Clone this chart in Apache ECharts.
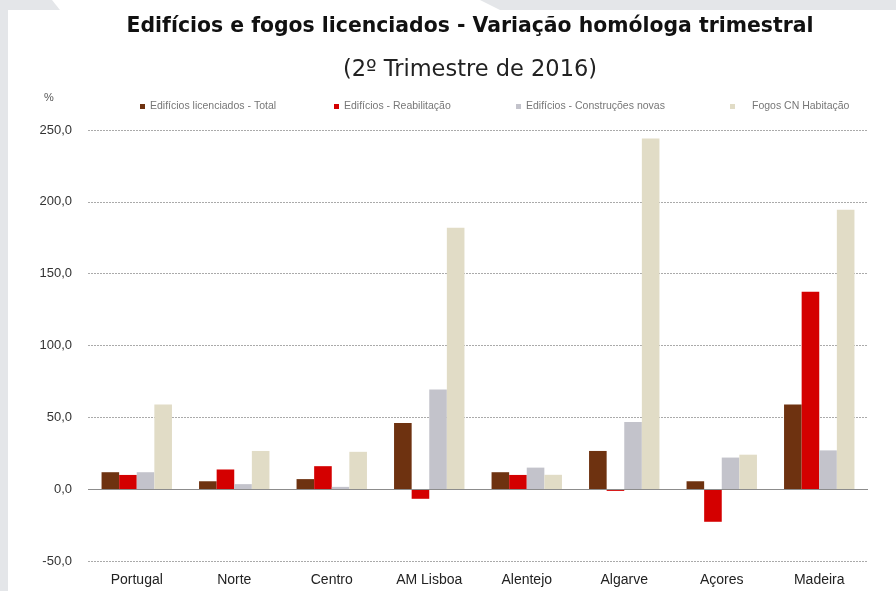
<!DOCTYPE html>
<html><head><meta charset="utf-8">
<script src="https://cdn.jsdelivr.net/npm/echarts@6/dist/echarts.min.js"></script>
<style>html,body{margin:0;padding:0;background:#e4e6e9;}#c{width:896px;height:591px;}</style>
</head><body><div id="c"></div>
<script>
const categories = ['Portugal','Norte','Centro','AM Lisboa','Alentejo','Algarve','Açores','Madeira'];
const seriesNames = ['Edifícios licenciados - Total','Edifícios - Reabilitação','Edifícios - Construções novas','Fogos CN Habitação'];
const total = [11.8, 5.5, 7.0, 46.0, 11.8, 26.6, 5.5, 59.0];
const reabilitacao = [9.9, 13.7, 16.0, -6.7, 9.9, -1.2, -22.7, 137.5];
const construcoesNovas = [11.8, 3.5, 1.6, 69.4, 15.0, 46.8, 22.0, 27.0];
const fogosCN = [59.0, 26.6, 26.0, 182.0, 10.0, 244.0, 24.0, 194.5];
const yTicks = {min: -50, max: 250, interval: 50};

const colors = ['#6e3210','#d40000','#c3c3cb','#e1dcc6'];
const chart = echarts.init(document.getElementById('c'));
const legendLefts = [135, 329, 511, 725];
const legendPads = [0, 0, 0, 12];
const dataArr = [total, reabilitacao, construcoesNovas, fogosCN];
const series = dataArr.map((d,i)=>({
  name: seriesNames[i], type:'bar', data:d, barWidth: 17.6, barGap:'0%',
  itemStyle:{color:colors[i]}, animation:false,
  markLine: i===0 ? {silent:true, symbol:'none', label:{show:false},
    lineStyle:{color:'#8c8c8c', type:'solid', width:1.2}, data:[{yAxis:0}]} : undefined
}));
chart.setOption({
  backgroundColor:'transparent',
  animation:false,
  graphic:[
    {type:'rect', shape:{x:8,y:10,width:900,height:600}, style:{fill:'#ffffff'}, z:-10},
    {type:'polygon', shape:{points:[[52,0],[480,0],[500,10],[60,10]]}, style:{fill:'#ffffff'}, z:-10},
    {type:'text', left:44, top:92, style:{text:'%', fontSize:11, fill:'#555', fontFamily:'Liberation Sans'}}
  ],
  title:[
    {text:'Edifícios e fogos licenciados - Variação homóloga trimestral', left:465, textAlign:'center', top:12,
     textStyle:{fontFamily:'DejaVu Sans', fontWeight:'bold', fontSize:20.4, color:'#111'}},
    {text:'(2º Trimestre de 2016)', left:465, textAlign:'center', top:54,
     textStyle:{fontFamily:'DejaVu Sans', fontWeight:'normal', fontSize:22.5, color:'#222'}}
  ],
  legend: seriesNames.map((n,i)=>({data:[n], left:legendLefts[i], top:96, itemWidth:5, itemHeight:5, itemGap:2,
    icon:'rect', textStyle:{fontSize:10.5, color:'#777', fontFamily:'Liberation Sans', padding:[0,0,0,legendPads[i]]}})),
  grid:{left:88, right:28, top:130, bottom:30},
  xAxis:{type:'category', data:categories, axisLine:{show:false}, axisTick:{show:false},
    axisLabel:{fontSize:14, color:'#222', fontFamily:'Liberation Sans', margin:12}},
  yAxis:{type:'value', min:yTicks.min, max:yTicks.max, interval:yTicks.interval,
    axisLabel:{fontSize:13, color:'#333', fontFamily:'Liberation Sans', margin:16,
      formatter:v=>v.toFixed(1).replace('.',',')},
    axisLine:{show:false}, axisTick:{show:false},
    splitLine:{lineStyle:{color:'#aaa', type:[2,1], width:1}}},
  series: series
});
</script></body></html>
